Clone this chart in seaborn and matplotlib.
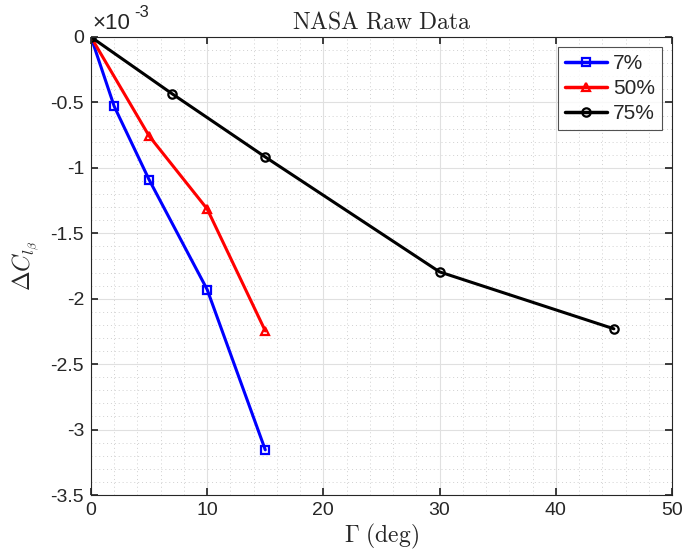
import numpy as np
import pandas as pd
import matplotlib
matplotlib.use("Agg")
import matplotlib.pyplot as plt
import seaborn as sns
from matplotlib.ticker import MultipleLocator, FuncFormatter

# Data (x: dihedral angle in deg, y: Delta C_l_beta)
x_7 = [0, 2, 5, 10, 15]
y_7 = [0, -0.53e-3, -1.09e-3, -1.93e-3, -3.155e-3]
x_50 = [0, 5, 10, 15]
y_50 = [0, -0.756e-3, -1.314e-3, -2.246e-3]
x_75 = [0, 7, 15, 30, 45]
y_75 = [0, -0.435e-3, -0.917e-3, -1.795e-3, -2.23e-3]
labels = ["7%", "50%", "75%"]

sns.set_theme(style="white")
plt.rcParams['font.family'] = ['Liberation Sans', 'DejaVu Sans']
plt.rcParams['mathtext.fontset'] = 'cm'
plt.rcParams['axes.unicode_minus'] = False

df = pd.concat([
    pd.DataFrame({"x": x_7, "y": y_7, "s": labels[0]}),
    pd.DataFrame({"x": x_50, "y": y_50, "s": labels[1]}),
    pd.DataFrame({"x": x_75, "y": y_75, "s": labels[2]}),
])

fig = plt.figure(figsize=(6.85, 5.58), dpi=100)
ax = fig.add_axes([0.1328, 0.1129, 0.8482, 0.8208])

colors = {"7%": "#0000ff", "50%": "#ff0000", "75%": "#000000"}
markers = {"7%": "s", "50%": "^", "75%": "o"}
for lab in labels:
    sub = df[df["s"] == lab]
    sns.lineplot(data=sub, x="x", y="y", ax=ax, color=colors[lab], marker=markers[lab],
                 markersize=6, markerfacecolor="none", markeredgecolor=colors[lab],
                 markeredgewidth=1.6, linewidth=2.2, label=lab, sort=False, estimator=None)

ax.set_xlim(0, 50)
ax.set_ylim(-3.5e-3, 0)
ax.xaxis.set_major_locator(MultipleLocator(10))
ax.xaxis.set_minor_locator(MultipleLocator(2))
ax.yaxis.set_major_locator(MultipleLocator(0.5e-3))
ax.yaxis.set_minor_locator(MultipleLocator(0.1e-3))
ax.yaxis.set_major_formatter(FuncFormatter(lambda v, p: f"{round(v * 1e3, 3):g}"))

# exponent label at top-left
ax.annotate("\u00d710", xy=(0, 1), xycoords="axes fraction", xytext=(1, 2),
            textcoords="offset points", fontsize=16, ha="left", va="bottom", color="#262626")
ax.annotate("-3", xy=(0, 1), xycoords="axes fraction", xytext=(31, 12),
            textcoords="offset points", fontsize=12, ha="left", va="bottom", color="#262626")

ax.grid(True, which="major", color="#e0e0e0", linewidth=0.8, linestyle="-")
ax.grid(True, which="minor", color="#d0d0d0", linewidth=0.7, linestyle=(0, (1, 3)))
ax.set_axisbelow(True)

for sp in ax.spines.values():
    sp.set_visible(True)
    sp.set_color("#262626")
    sp.set_linewidth(0.8)

ax.tick_params(which="both", direction="in", top=True, right=True, bottom=True, left=True,
               labelsize=14, colors="#262626")
ax.tick_params(which="major", length=5, pad=5)
ax.tick_params(which="minor", length=0)

ax.set_title(r"$\mathrm{NASA\ Raw\ Data}$", fontsize=17, pad=6)
ax.set_xlabel(r"$\Gamma\ \mathrm{(deg)}$", fontsize=17, labelpad=2)
ax.set_ylabel(r"$\Delta C_{l_\beta}$", fontsize=17, labelpad=6)

leg = ax.legend(loc="upper right", fontsize=15, frameon=True, fancybox=False,
                edgecolor="#262626", handlelength=2.0, borderpad=0.35, labelspacing=0.28,
                handletextpad=0.3, borderaxespad=0.0, bbox_to_anchor=(0.983, 0.978))
leg.get_frame().set_linewidth(0.8)
for h in leg.get_lines():
    h.set_linewidth(2.5)

fig.savefig("out.png", dpi=100)
